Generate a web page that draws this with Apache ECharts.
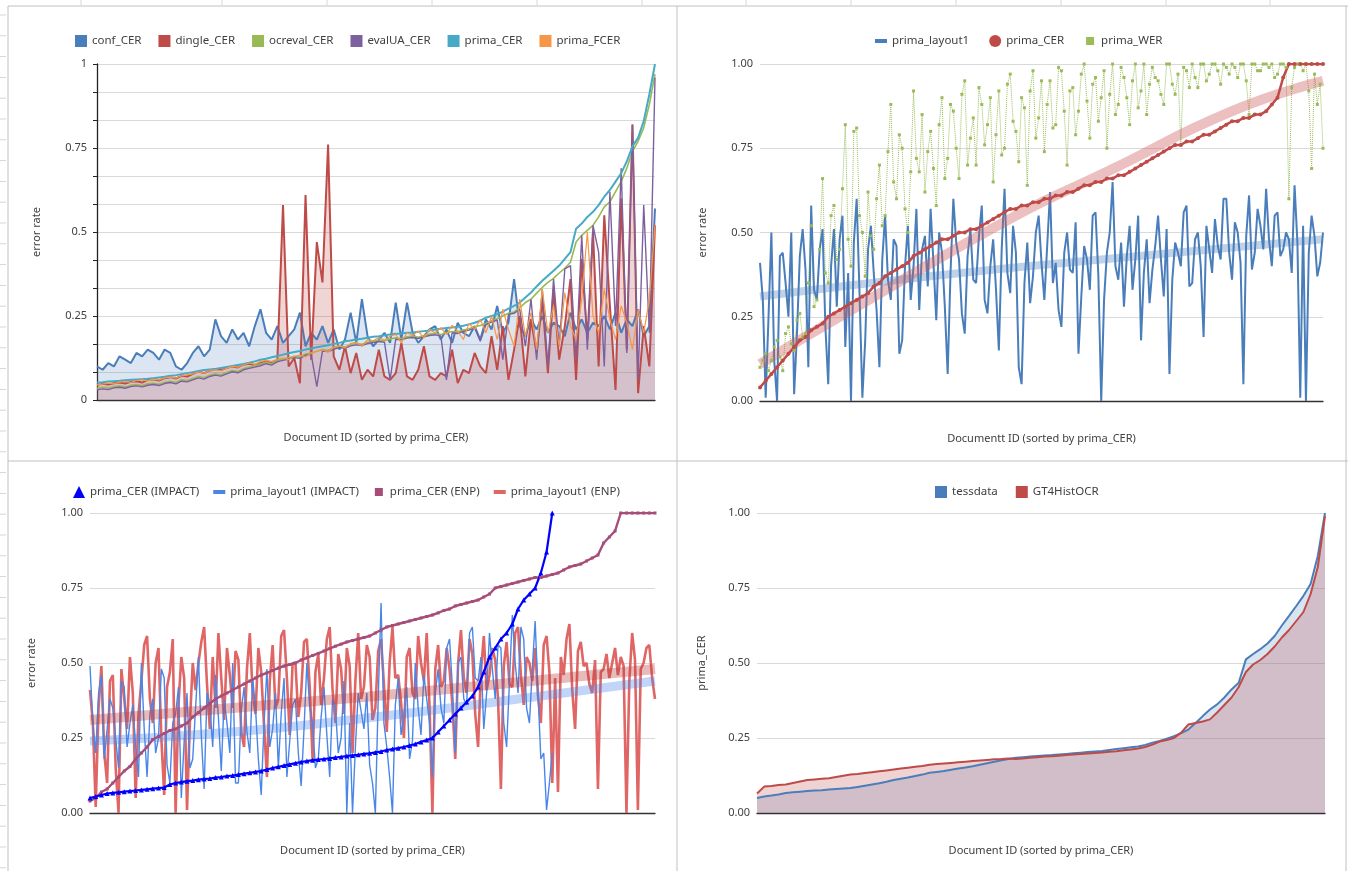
<!DOCTYPE html>
<html><head><meta charset="utf-8">
<script src="https://cdn.jsdelivr.net/npm/echarts@6/dist/echarts.min.js"></script>
<style>html,body{margin:0;padding:0;background:#fff}#c{width:1348px;height:871px}</style>
</head><body><div id="c"></div>
<script>
// ---------- Panel 1 (top-left) : error rates of 6 tools, 100 docs sorted by prima_CER ----------
const p1_conf_CER = [.10,.09,.11,.10,.13,.12,.11,.14,.13,.15, .14,.12,.15,.14,.10,.09,.11,.14,.16,.13,
 .15,.24,.19,.17,.21,.18,.20,.16,.22,.27, .20,.18,.22,.17,.19,.21,.26,.16,.20,.18,
 .22,.17,.21,.15,.18,.26,.17,.30,.19,.16, .18,.20,.17,.29,.18,.29,.20,.17,.19,.21,
 .22,.18,.21,.17,.23,.20,.19,.22,.18,.24, .21,.28,.20,.23,.36,.22,.19,.24,.21,.25,
 .20,.23,.22,.19,.26,.21,.24,.20,.23,.22, .25,.21,.26,.20,.24,.22,.27,.19,.22,.57];
const p1_dingle_CER = [.045,.048,.046,.050,.052,.049,.054,.056,.052,.060, .062,.058,.065,.068,.064,.072,.070,.078,.085,.080,
 .088,.092,.089,.095,.100,.097,.105,.108,.104,.112, .115,.110,.118,.58,.10,.125,.05,.61,.12,.47,
 .35,.76,.13,.09,.16,.08,.14,.06,.09,.07, .15,.07,.06,.08,.17,.07,.06,.09,.16,.07,
 .06,.08,.07,.15,.05,.09,.08,.14,.10,.08, .19,.09,.22,.06,.15,.25,.07,.24,.14,.30,
 .08,.33,.12,.22,.36,.06,.42,.18,.50,.10, .55,.28,.03,.60,.15,.82,.02,.22,.10,.52];
const p1_ocreval_CER = [.035,.038,.036,.040,.042,.039,.044,.046,.043,.048, .050,.047,.053,.056,.052,.060,.058,.064,.070,.066,
 .074,.078,.075,.082,.088,.085,.094,.098,.102,.106, .112,.108,.118,.122,.126,.130,.128,.137,.140,.145,
 .150,.148,.155,.160,.158,.165,.168,.166,.172,.175, .178,.176,.182,.185,.183,.188,.190,.187,.192,.196,
 .198,.195,.200,.204,.202,.208,.212,.218,.222,.228, .236,.242,.250,.258,.262,.275,.290,.300,.318,.335,
 .350,.362,.378,.392,.410,.470,.490,.505,.520,.545, .575,.590,.620,.650,.690,.740,.770,.810,.880,.97];
const p1_evalUA_CER = [.030,.033,.031,.036,.038,.035,.040,.042,.039,.044, .046,.043,.049,.052,.048,.056,.054,.060,.066,.062,
 .070,.074,.071,.078,.084,.081,.090,.094,.098,.102, .108,.104,.114,.118,.122,.126,.124,.133,.136,.04,
 .146,.144,.151,.156,.154,.161,.164,.162,.168,.171, .174,.172,.06,.181,.179,.184,.186,.183,.188,.192,
 .194,.191,.06,.200,.198,.204,.208,.214,.175,.224, .232,.238,.12,.255,.258,.270,.16,.30,.12,.33,
 .10,.36,.16,.39,.40,.12,.49,.15,.52,.44, .10,.62,.22,.69,.14,.82,.06,.58,.20,.96];
const p1_prima_CER = [.052,.053,.055,.056,.057,.059,.060,.061,.062,.063, .065,.067,.069,.072,.074,.077,.080,.083,.086,.089,
 .091,.092,.095,.098,.101,.104,.107,.111,.115,.120, .123,.127,.131,.135,.139,.143,.146,.150,.153,.157,
 .160,.163,.167,.170,.175,.177,.180,.182,.185,.188, .190,.193,.195,.197,.198,.200,.201,.203,.205,.207,
 .210,.212,.214,.216,.218,.221,.225,.230,.236,.245, .250,.255,.263,.272,.280,.290,.305,.320,.338,.355,
 .370,.385,.400,.420,.440,.510,.525,.545,.560,.580, .605,.625,.650,.675,.710,.755,.780,.830,.910,1.0];
const p1_prima_FCER = [.045,.047,.050,.048,.053,.055,.052,.058,.060,.057, .062,.060,.066,.068,.065,.072,.075,.078,.084,.080,
 .088,.090,.087,.094,.100,.098,.104,.110,.106,.114, .118,.115,.122,.125,.120,.130,.134,.128,.140,.145,
 .150,.142,.158,.162,.155,.168,.172,.160,.180,.176, .186,.178,.190,.195,.170,.200,.192,.205,.185,.210,
 .200,.215,.195,.222,.205,.180,.228,.210,.240,.200, .250,.180,.270,.210,.160,.300,.190,.260,.150,.330,
 .200,.280,.160,.320,.220,.180,.300,.500,.250,.200, .330,.240,.180,.280,.230,.150,.270,.200,.300,.520];

// ---------- Panel 2 (top-right) : 199 docs; prima_CER read at every 2nd doc ----------
const p2_prima_layout1 = [.41,.30,.01,.25,.50,.12,.00,.43,.44,.35,.25,.50,.02,.20,.43,.51,.39,.10,.58,.33,
 .30,.45,.51,.22,.05,.40,.51,.28,.48,.55,.16,.38,.00,.47,.60,.32,.01,.18,.45,.52,
 .38,.27,.10,.42,.55,.36,.30,.48,.46,.14,.18,.40,.52,.30,.40,.57,.27,.45,.49,.34,
 .57,.41,.24,.50,.44,.28,.08,.38,.60,.47,.42,.26,.20,.43,.51,.36,.35,.49,.58,.30,
 .26,.40,.48,.33,.15,.45,.63,.38,.32,.52,.44,.10,.05,.35,.47,.29,.37,.50,.55,.41,
 .30,.46,.62,.35,.41,.27,.22,.44,.50,.39,.38,.53,.14,.31,.46,.42,.33,.55,.56,.37,
 .00,.30,.44,.50,.65,.40,.36,.47,.28,.43,.52,.33,.42,.55,.18,.38,.48,.29,.39,.46,
 .55,.42,.31,.51,.08,.36,.47,.44,.40,.56,.58,.34,.35,.48,.50,.40,.19,.52,.45,.38,
 .54,.46,.42,.60,.60,.44,.36,.53,.50,.41,.05,.49,.61,.39,.44,.57,.52,.45,.63,.48,
 .40,.55,.56,.43,.45,.50,.48,.38,.64,.47,.01,.52,.00,.44,.55,.49,.37,.41,.50];
const p2_prima_WER = [.10,.12,.14,.09,.12,.16,.18,.13,.09,.20,.22,.17,.15,.24,.26,.19,.20,.35,.52,.28,
 .30,.45,.66,.38,.35,.55,.58,.42,.45,.63,.82,.48,.40,.80,.81,.55,.50,.37,.62,.49,
 .45,.60,.70,.52,.55,.74,.88,.65,.60,.79,.75,.57,.50,.68,.92,.72,.68,.85,.62,.74,
 .80,.69,.58,.82,.90,.66,.72,.88,.86,.75,.66,.91,.95,.70,.78,.84,.70,.93,.88,.76,
 .82,.90,.65,.79,.92,.73,.75,.94,.97,.83,.80,.71,.90,.87,.64,.92,.98,.78,.84,.95,
 .74,.88,.95,.81,.82,.99,.98,.86,.70,.92,.93,.79,.86,.97,1.0,.89,.78,.94,.96,.83,
 .90,.98,.75,.91,1.0,.85,.88,.99,.96,.90,.82,.95,1.0,.87,.92,1.0,.85,.94,.99,.96,
 .95,.91,.88,1.0,1.0,.94,.91,.97,.76,.99,.98,.93,1.0,.96,.93,1.0,1.0,.95,.97,1.0,
 1.0,.98,.94,1.0,.99,.97,1.0,.99,.96,1.0,1.0,.95,.85,1.0,1.0,.98,.98,1.0,1.0,.99,
 1.0,.96,.97,1.0,1.0,.99,.60,.93,.99,1.0,1.0,.98,1.0,.92,.69,.97,.88,.94,.75];
const p2_prima_CER = [.04,.06,.08,.10,.12,.14,.16,.18,.19,.21, .22,.23,.25,.26,.27,.28,.29,.30,.31,.32,
 .34,.35,.37,.38,.39,.40,.41,.43,.44,.45, .46,.47,.48,.48,.49,.50,.50,.51,.51,.52,
 .53,.54,.55,.56,.57,.57,.58,.58,.59,.59, .60,.60,.61,.61,.62,.62,.63,.64,.64,.65,
 .65,.66,.66,.67,.67,.68,.69,.70,.71,.72, .73,.74,.75,.76,.76,.77,.77,.78,.79,.79,
 .80,.81,.82,.83,.83,.84,.84,.85,.85,.86, .88,.90,.96,1,1,1,1,1,1,1];
// trend lines read as [docIndex, value]
const p2_trend_layout1 = [[0,.31],[60,.37],[120,.42],[198,.48]];
const p2_trend_CER = [[0,.11],[30,.26],[90,.55],[122,.68],[166,.86],[198,.95]];

// ---------- Panel 3 (bottom-left) : 199 docs; CER curves read at every 2nd doc ----------
const p3_CER_IMPACT = [.05,.055,.06,.065,.067,.069,.071,.073,.075,.077, .079,.081,.083,.085,.095,.10,.103,.106,.108,.111,
 .113,.115,.118,.120,.123,.125,.128,.131,.134,.137, .14,.145,.150,.154,.158,.162,.166,.170,.173,.176,
 .178,.180,.182,.185,.187,.19,.192,.194,.197,.199, .202,.205,.21,.213,.216,.22,.225,.23,.237,.243,
 .25,.27,.29,.31,.33,.35,.37,.39,.42,.47, .52,.55,.58,.60,.63,.68,.71,.73,.75,.80, .87,1.0];
const p3_layout1_IMPACT = [.49,.30,.20,.40,.46,.18,.28,.38,.35,.25,.15,.44,.42,.22,.30,.36,.22,.12,.50,.28,
 .12,.33,.38,.20,.25,.48,.45,.16,.10,.30,.33,.42,.05,.24,.40,.15,.18,.35,.52,.26,
 .08,.40,.36,.22,.46,.32,.14,.38,.30,.20,.50,.10,.10,.34,.42,.27,.20,.45,.35,.18,
 .06,.30,.48,.22,.28,.40,.15,.33,.45,.12,.24,.36,.38,.20,.09,.28,.50,.35,.30,.15,
 .18,.32,.42,.26,.12,.38,.35,.20,.25,.44,.00,.30,.00,.22,.40,.34,.28,.40,.16,.10,
 .00,.38,.70,.30,.22,.12,.00,.36,.45,.26,.32,.42,.18,.24,.50,.35,.26,.46,.38,.30,
 .12,.40,.48,.35,.30,.55,.58,.42,.20,.50,.52,.38,.36,.60,.62,.45,.44,.52,.28,.40,
 .60,.48,.38,.56,.55,.30,.22,.44,.66,.50,.40,.62,.58,.35,.30,.48,.64,.40,.18,.20,
 .01,.10,.20];
const p3_CER_ENP = [.04,.05,.07,.08,.10,.12,.14,.155,.18,.20, .22,.245,.255,.265,.275,.28,.29,.30,.32,.335,
 .35,.365,.38,.39,.40,.41,.42,.43,.44,.45, .46,.467,.475,.483,.49,.495,.50,.51,.517,.525,
 .532,.54,.548,.556,.563,.57,.575,.58,.585,.59, .60,.61,.62,.625,.63,.635,.64,.645,.65,.655,
 .66,.667,.675,.68,.69,.695,.70,.705,.71,.72, .73,.75,.755,.76,.765,.77,.775,.78,.785,.785,
 .79,.795,.80,.81,.82,.825,.83,.84,.85,.86, .90,.92,.94,1,1,1,1,1,1,1];
const p3_layout1_ENP = [.41,.30,.02,.35,.49,.20,.10,.44,.46,.15,.00,.48,.38,.28,.52,.40,.05,.33,.44,.56,
 .59,.38,.30,.50,.55,.25,.06,.42,.47,.58,.00,.36,.52,.45,.01,.30,.50,.41,.50,.57,
 .62,.43,.28,.52,.35,.60,.45,.31,.55,.46,.35,.54,.51,.27,.22,.48,.60,.40,.33,.55,
 .47,.29,.12,.44,.56,.35,.38,.59,.61,.45,.26,.50,.50,.32,.40,.57,.58,.42,.18,.47,
 .53,.36,.45,.58,.62,.41,.30,.53,.48,.33,.55,.49,.20,.44,.60,.38,.42,.56,.52,.31,
 .35,.54,.58,.43,.27,.50,.62,.45,.46,.37,.25,.52,.55,.40,.38,.59,.50,.44,.60,.35,
 .00,.48,.56,.42,.44,.55,.48,.36,.18,.50,.61,.45,.40,.58,.53,.33,.22,.47,.59,.41,
 .46,.55,.51,.38,.08,.49,.57,.43,.42,.60,.62,.46,.36,.52,.50,.44,.55,.39,.30,.56,
 .59,.47,.10,.45,.07,.52,.46,.58,.63,.41,.28,.54,.57,.49,.50,.43,.40,.51,.08,.47,
 .48,.53,.45,.50,.55,.46,.52,.49,.00,.44,.60,.51,.01,.48,.50,.55,.56,.45,.38];
const p3_trend_IMPACT = [[0,.24],[50,.27],[100,.32],[150,.38],[198,.44]];
const p3_trend_ENP = [[0,.31],[100,.39],[198,.48]];

// ---------- Panel 4 (bottom-right) ----------
const p4_tessdata = [.05,.055,.058,.062,.067,.069,.071,.073,.075,.076, .078,.080,.082,.083,.087,.091,.095,.099,.104,.110,
 .114,.118,.123,.128,.134,.137,.140,.144,.148,.152, .156,.161,.166,.171,.176,.180,.184,.186,.188,.190,
 .192,.193,.195,.197,.199,.201,.203,.205,.207,.210, .213,.216,.219,.222,.227,.234,.240,.248,.256,.266,
 .278,.300,.323,.345,.362,.385,.412,.434,.512,.530, .546,.565,.590,.625,.657,.690,.724,.763,.857,1.0];
const p4_GT4HistOCR = [.065,.088,.090,.093,.095,.100,.105,.110,.112,.114, .116,.120,.124,.128,.130,.133,.136,.139,.142,.145,
 .148,.151,.154,.157,.161,.163,.165,.167,.169,.171, .173,.175,.177,.179,.180,.182,.180,.182,.184,.186,
 .188,.189,.191,.193,.195,.197,.198,.200,.202,.204, .206,.209,.212,.215,.220,.228,.238,.243,.250,.268,
 .295,.300,.305,.312,.335,.360,.385,.420,.470,.495, .510,.530,.555,.585,.610,.640,.670,.730,.820,.99];

const idx = n => Array.from({length:n},(_,i)=>String(i+1));
const every2 = arr => arr.map((v,i)=>[2*i, v]);
const FONT = 'Noto Sans';
const TXT = '#404040';
const BAR = 'path://M0,4H12V8H0Z M0,0H0.01V0.01H0Z M12,12H11.99V11.99H12Z';
const SQ = 'path://M2,2H10V10H2Z M0,0H0.01V0.01H0Z M12,12H11.99V11.99H12Z';

function xAx(grid, n, name){
  return {type:'category', gridIndex:grid, data:idx(n), boundaryGap:false,
    axisLabel:{show:false}, axisTick:{show:false},
    axisLine:{show:true, lineStyle:{color:'#333', width:1.3}},
    name:name, nameLocation:'middle', nameGap:32,
    nameTextStyle:{color:TXT, fontSize:11, fontFamily:FONT}};
}
function yAx(grid, name, gap){
  return {type:'value', gridIndex:grid, min:0, max:1, interval:0.25,
    axisLine:{show:false}, axisTick:{show:false},
    axisLabel:{color:TXT, fontSize:11, fontFamily:FONT, margin:7, formatter:v=>v.toFixed(2)},
    splitLine:{lineStyle:{color:'#d9d9d9'}},
    name:name, nameLocation:'middle', nameGap:gap,
    nameTextStyle:{color:TXT, fontSize:11, fontFamily:FONT}};
}
function ln(name, data, xi, color, width, extra){
  return Object.assign({type:'line', name:name, data:data, xAxisIndex:xi, yAxisIndex:xi,
    symbol:'none', showSymbol:false, color:color, lineStyle:{color:color, width:width}}, extra||{});
}
function trend(data, xi, color, width){
  return {type:'line', name:'_t', data:data, xAxisIndex:xi, yAxisIndex:xi, smooth:true,
    symbol:'none', lineStyle:{color:color, width:width, cap:'butt'}, silent:true};
}

const leftTicks = [];
for (let y = 15; y < 871; y += 20.8) leftTicks.push({type:'line', shape:{x1:0,y1:y,x2:6,y2:y}, style:{stroke:'#d6d6d6',lineWidth:1}});
const topTicks = [81,222,327,432,537,642,746,851,956,1061,1166,1270].map(x=>({type:'line', shape:{x1:x,y1:0,x2:x,y2:5}, style:{stroke:'#d6d6d6',lineWidth:1}}));

const legendText = {color:TXT, fontSize:11.5, fontFamily:FONT};

const option = {
  animation:false,
  backgroundColor:'#fff',
  textStyle:{fontFamily:FONT},
  graphic: [
    {type:'line', shape:{x1:8,y1:6,x2:8,y2:871}, style:{stroke:'#c0c0c0',lineWidth:1}},
    {type:'line', shape:{x1:8,y1:6,x2:1348,y2:6}, style:{stroke:'#c0c0c0',lineWidth:1}},
    {type:'line', shape:{x1:677,y1:6,x2:677,y2:871}, style:{stroke:'#c0c0c0',lineWidth:1}},
    {type:'line', shape:{x1:8,y1:461,x2:1348,y2:461}, style:{stroke:'#c0c0c0',lineWidth:1}},
    {type:'line', shape:{x1:1346,y1:6,x2:1346,y2:871}, style:{stroke:'#c0c0c0',lineWidth:1}}
  ].concat(leftTicks, topTicks),
  grid: [
    {left:97, top:64, width:558, height:336},
    {left:760, top:64, width:563, height:337},
    {left:90, top:513, width:565, height:300},
    {left:757, top:513, width:568, height:300}
  ],
  legend: [
    {left:70, top:30, itemWidth:12, itemHeight:12, itemGap:17, icon:'rect', textStyle:legendText,
     data:['conf_CER','dingle_CER','ocreval_CER','evalUA_CER','prima_CER','prima_FCER']},
    {left:870, top:30, itemWidth:12, itemHeight:12, itemGap:20, textStyle:legendText,
     data:[{name:'prima_layout1', icon:BAR},{name:'prima_CER\u200b', icon:'circle'},{name:'prima_WER', icon:SQ}]},
    {left:68, top:481, itemWidth:12, itemHeight:12, itemGap:14, textStyle:legendText,
     data:[{name:'prima_CER (IMPACT)', icon:'triangle'},{name:'prima_layout1 (IMPACT)', icon:BAR},
           {name:'prima_CER (ENP)', icon:SQ},{name:'prima_layout1 (ENP)', icon:BAR}]},
    {left:930, top:481, itemWidth:12, itemHeight:12, itemGap:18, icon:'rect', textStyle:legendText,
     data:['tessdata','GT4HistOCR']}
  ],
  xAxis: [
    xAx(0,p1_prima_CER.length,'Document ID (sorted by prima_CER)'),
    xAx(1,p2_prima_layout1.length,'Documentt ID (sorted by prima_CER)'),
    xAx(2,p3_layout1_ENP.length,'Document ID (sorted by prima_CER)'),
    xAx(3,p4_tessdata.length,'Document ID (sorted by prima_CER)')
  ],
  yAxis: [
    {type:'value', gridIndex:0, min:0, max:1, interval:1/12,
     axisLine:{show:true, lineStyle:{color:'#222', width:1.3}},
     axisTick:{show:true, length:4, lineStyle:{color:'#222'}},
     axisLabel:{color:TXT, fontSize:11, fontFamily:FONT, margin:10,
       formatter:v=>{const q=v*4; return Math.abs(q-Math.round(q))<1e-6 ? String(Math.round(q)/4) : '';}},
     splitLine:{lineStyle:{color:'#d9d9d9'}},
     name:'error rate', nameLocation:'middle', nameGap:55,
     nameTextStyle:{color:TXT, fontSize:11, fontFamily:FONT}},
    yAx(1,'error rate',52),
    yAx(2,'error rate',53),
    yAx(3,'prima_CER',50)
  ],
  series: [
    // panel 1
    ln('conf_CER', p1_conf_CER, 0, '#4a7ebb', 2, {areaStyle:{color:'rgba(74,126,187,0.28)'}}),
    ln('dingle_CER', p1_dingle_CER, 0, '#be4b48', 2, {areaStyle:{color:'rgba(190,75,72,0.33)'}}),
    ln('ocreval_CER', p1_ocreval_CER, 0, '#98b954', 1.6),
    ln('evalUA_CER', p1_evalUA_CER, 0, '#7d60a0', 1.4),
    ln('prima_CER', p1_prima_CER, 0, '#46aac5', 2),
    ln('prima_FCER', p1_prima_FCER, 0, '#f79646', 1.2),
    // panel 2
    ln('prima_WER', p2_prima_WER, 1, '#9bbb59', 1, {symbol:'rect', symbolSize:3, showSymbol:true, showAllSymbol:true,
       itemStyle:{color:'#9bbb59'}, lineStyle:{color:'#9bbb59', width:1, type:'dotted'}}),
    ln('prima_layout1', p2_prima_layout1, 1, '#4a7ebb', 2),
    trend(p2_trend_layout1, 1, 'rgba(74,126,187,0.35)', 8),
    trend(p2_trend_CER, 1, 'rgba(205,90,90,0.38)', 10),
    ln('prima_CER\u200b', every2(p2_prima_CER), 1, '#be4b48', 2.5, {symbol:'circle', symbolSize:4, showSymbol:true,
       showAllSymbol:true, itemStyle:{color:'#be4b48'}}),
    // panel 3
    ln('prima_layout1 (ENP)', p3_layout1_ENP, 2, '#e06666', 2.6),
    ln('prima_layout1 (IMPACT)', p3_layout1_IMPACT, 2, '#4a86e8', 1.4),
    trend(p3_trend_IMPACT, 2, 'rgba(74,134,232,0.35)', 9),
    trend(p3_trend_ENP, 2, 'rgba(190,60,60,0.35)', 10),
    ln('prima_CER (ENP)', every2(p3_CER_ENP), 2, '#a64d79', 2.4, {symbol:'rect', symbolSize:3, showSymbol:true,
       showAllSymbol:true, itemStyle:{color:'#a64d79'}}),
    ln('prima_CER (IMPACT)', every2(p3_CER_IMPACT), 2, '#0000ff', 2.2, {symbol:'triangle', symbolSize:5, showSymbol:true,
       showAllSymbol:true, itemStyle:{color:'#0000ff'}, lineStyle:{color:'#0000ff', width:2.2}}),
    // panel 4
    ln('tessdata', p4_tessdata, 3, '#4a7ebb', 2, {areaStyle:{color:'rgba(74,126,187,0.3)'}}),
    ln('GT4HistOCR', p4_GT4HistOCR, 3, '#be4b48', 2, {areaStyle:{color:'rgba(190,75,72,0.35)'}})
  ]
};
echarts.init(document.getElementById('c')).setOption(option);
</script></body></html>
